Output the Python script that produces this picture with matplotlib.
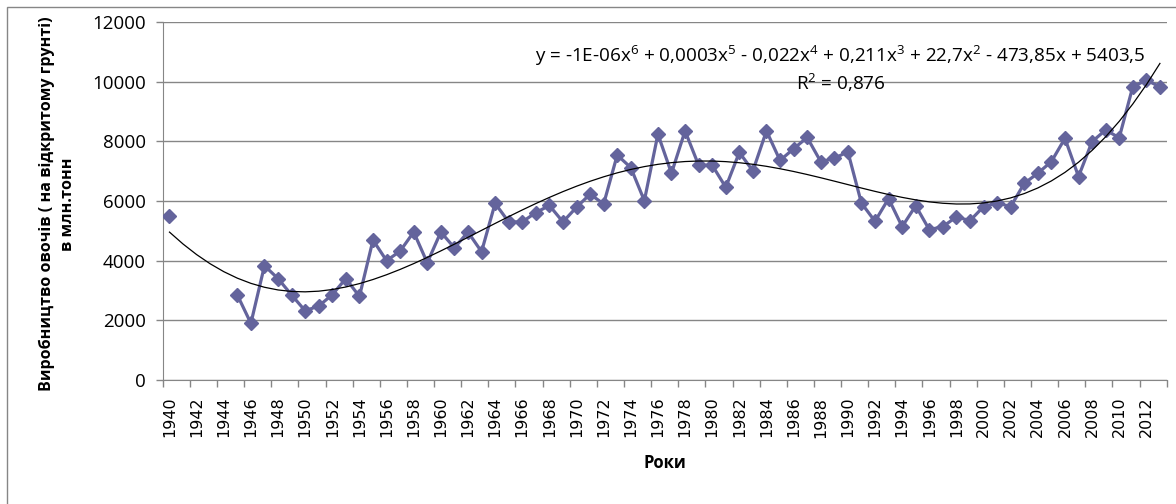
import numpy as np
import matplotlib
matplotlib.use("Agg")
import matplotlib.pyplot as plt
from matplotlib.patches import Rectangle
from matplotlib.ticker import FixedLocator

# Data (млн. тонн), 1941-1944 missing
years = list(range(1940, 2014))
production = [5500, np.nan, np.nan, np.nan, np.nan, 2850, 1900, 3830, 3400, 2850,
              2320, 2480, 2860, 3400, 2800, 4690, 4000, 4320, 4960, 3930,
              4960, 4430, 4960, 4300, 5920, 5300, 5300, 5610, 5850, 5300,
              5790, 6230, 5900, 7540, 7120, 6010, 8240, 6930, 8350, 7200,
              7200, 6460, 7630, 7010, 8350, 7360, 7750, 8130, 7320, 7430,
              7650, 5930, 5320, 6080, 5140, 5840, 5040, 5140, 5470, 5340,
              5810, 5940, 5810, 6590, 6930, 7320, 8100, 6820, 7990, 8380,
              8120, 9830, 10050, 9830]
label_years = list(range(1940, 2013, 2))
y_ticks = [0, 2000, 4000, 6000, 8000, 10000, 12000]
equation = (r"y = -1E-06x$^{6}$ + 0,0003x$^{5}$ - 0,022x$^{4}$ + 0,211x$^{3}$"
            r" + 22,7x$^{2}$ - 473,85x + 5403,5")
r2_text = r"R$^{2}$ = 0,876"

plt.rcParams['mathtext.fontset'] = 'custom'
plt.rcParams['mathtext.rm'] = 'Open Sans'
plt.rcParams['mathtext.it'] = 'Open Sans'

fig = plt.figure(figsize=(11.76, 5.04), dpi=100)
ax = fig.add_axes([162.7 / 1176, 1 - 380 / 504, 1004 / 1176, 358 / 504])

color = '#64649c'
ax.plot(years, production, color=color, lw=2.3, marker='D', ms=7.5, zorder=3)

# 6th order polynomial trend on category index (1..74), like Excel
idx = np.arange(1, len(years) + 1)
vals = np.array(production, dtype=float)
ok = ~np.isnan(vals)
poly = np.polynomial.Polynomial.fit(idx[ok], vals[ok], 6)
ax.plot(years, poly(idx), color='black', lw=0.9, zorder=4)

ax.set_xlim(1939.5, 2013.5)
ax.set_ylim(0, 12000)
ax.set_yticks(y_ticks)
ax.set_xticks(label_years)
ax.set_xticklabels([str(y) for y in label_years], rotation=90,
                   fontsize=11.5, family='DejaVu Sans')
ax.xaxis.set_minor_locator(FixedLocator(np.arange(1939.5, 2014, 2)))
ax.tick_params(axis='x', which='major', length=0, pad=12)
ax.tick_params(axis='x', which='minor', length=5, color='#868686', width=1)
ax.tick_params(axis='y', length=5, color='#868686', width=1, pad=7)
for lab in ax.get_yticklabels():
    lab.set_family('Open Sans')
    lab.set_fontsize(13.5)

ax.grid(axis='y', color='#868686', lw=1)
ax.set_axisbelow(True)
for side in ['top', 'right']:
    ax.spines[side].set_visible(False)
for side in ['left', 'bottom']:
    ax.spines[side].set_color('#868686')

ax.text(0.675, 0.905, equation, transform=ax.transAxes, ha='center', va='center',
        fontsize=13.6, family='Open Sans')
ax.text(0.675, 0.83, r2_text, transform=ax.transAxes, ha='center', va='center',
        fontsize=13.6, family='Open Sans')

fig.text(0.049, 0.595, "Виробництво овочів ( на відкритому грунті)\nв млн.тонн",
         rotation=90, ha='center', va='center', multialignment='center',
         fontsize=11.6, fontweight='bold', family=['Open Sans', 'DejaVu Sans'],
         linespacing=1.45)
fig.text(665 / 1176, 1 - 463 / 504, "Роки", ha='center', va='center',
         fontsize=12, fontweight='bold', family=['Open Sans', 'DejaVu Sans'])

# chart area border (only left and top visible in the frame)
fig.patches.append(Rectangle((6.5 / 1176, -0.5), 2, 0.5 + 1 - 6.5 / 504,
                             transform=fig.transFigure, fill=False,
                             edgecolor='#868686', lw=1))

fig.savefig('out.png', dpi=100)
